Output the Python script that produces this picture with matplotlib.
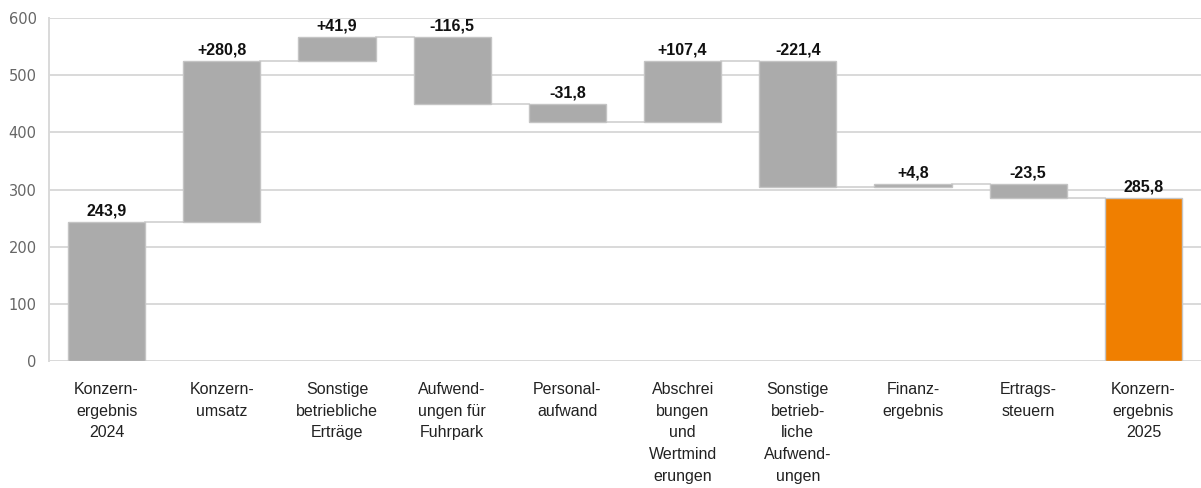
import matplotlib
matplotlib.use('Agg')
import matplotlib.pyplot as plt

categories = ['Konzern-\nergebnis\n2024', 'Konzern-\numsatz', 'Sonstige\nbetriebliche\nErträge',
              'Aufwend-\nungen für\nFuhrpark', 'Personal-\naufwand', 'Abschrei\nbungen\nund\nWertmind\nerungen',
              'Sonstige\nbetrieb-\nliche\nAufwend-\nungen', 'Finanz-\nergebnis', 'Ertrags-\nsteuern',
              'Konzern-\nergebnis\n2025']
start_value = 243.9
changes = [280.8, 41.9, -116.5, -31.8, 107.4, -221.4, 4.8, -23.5]
end_value = 285.8

sans = ['Liberation Sans', 'DejaVu Sans']
grey = '#ababab'
orange = '#f07f00'

fig = plt.figure(figsize=(12.01, 4.88), dpi=100)
ax = fig.add_axes([0.0408, 0.260, 0.9592, 0.703])

# running totals
bottoms, heights, labels = [0], [start_value], ['243,9']
total = start_value
for c in changes:
    new = total + c
    bottoms.append(min(total, new))
    heights.append(abs(c))
    labels.append(('+' if c > 0 else '-') + f'{abs(c):.1f}'.replace('.', ','))
    total = new
bottoms.append(0)
heights.append(end_value)
labels.append(f'{end_value:.1f}'.replace('.', ','))

colors = [grey] * (len(categories) - 1) + [orange]
x = range(len(categories))
w = 0.67
ax.bar(x, heights, bottom=bottoms, width=w, color=colors, edgecolor='#c4c4c4', linewidth=1, zorder=3)

# connector lines
levels = [start_value]
t = start_value
for c in changes:
    t += c
    levels.append(t)
for i in range(len(categories) - 1):
    ax.plot([i + w / 2, i + 1 - w / 2], [levels[i], levels[i]], color='#d0d0d0', lw=1.2, zorder=2)

for i, (b, h, lab) in enumerate(zip(bottoms, heights, labels)):
    ax.annotate(lab, (i, b + h), xytext=(0, 2.5), textcoords='offset points',
                ha='center', va='bottom', fontsize=11.5, fontweight='bold', family=sans, color='#111111')

ax.set_xlim(-0.5, 9.5)
ax.set_ylim(0, 600)
ax.set_yticks(range(0, 601, 100))
ax.set_xticks(list(x))
ax.set_xticklabels(categories, family=sans, fontsize=11.5, color='#222222', linespacing=1.56, va='top')
ax.tick_params(axis='x', length=0, pad=15)
ax.tick_params(axis='y', length=0, pad=9, labelsize=10.5, labelcolor='#666666')
ax.grid(axis='y', color='#d9d9d9', lw=1.4, zorder=0)
for s in ['top', 'right', 'bottom']:
    ax.spines[s].set_visible(False)
ax.spines['left'].set_color('#d9d9d9')
ax.spines['left'].set_linewidth(1.4)

plt.savefig('out.png', dpi=100)
plt.close()
